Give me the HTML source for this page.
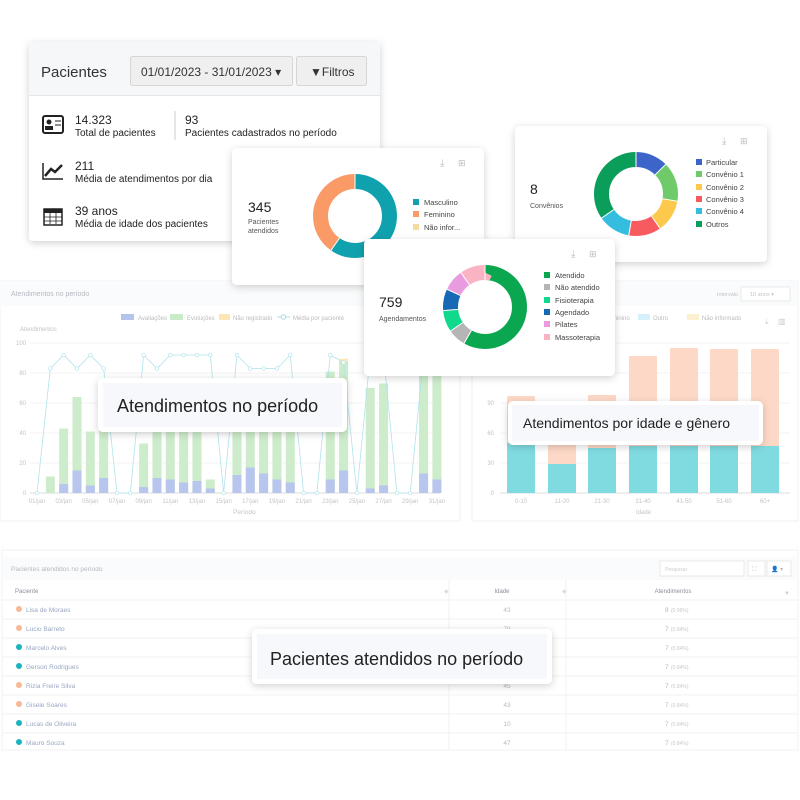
<!DOCTYPE html>
<html><head><meta charset="utf-8"><style>
html,body{margin:0;padding:0;background:#fff;width:800px;height:800px;overflow:hidden;font-family:"Liberation Sans",sans-serif}
</style></head><body>
<svg id="s" width="800" height="800" viewBox="0 0 800 800" xmlns="http://www.w3.org/2000/svg" font-family="Liberation Sans, sans-serif">
<defs>
<filter id="sh" x="-20%" y="-20%" width="140%" height="150%"><feDropShadow dx="0" dy="2" stdDeviation="4" flood-color="#000" flood-opacity="0.18"/></filter>
</defs>
<rect width="800" height="800" fill="#fff"/>
<!-- left chart panel -->
<rect x="0" y="281" width="460" height="240" fill="#fff" stroke="#f0f1f3"/>
<rect x="0" y="281" width="460" height="25" fill="#fafbfc"/>
<text x="11" y="296" font-size="7" fill="#b5b9c0">Atendimentos no período</text>
<rect x="121" y="314" width="13" height="6" fill="#b6c4ec"/><text x="138" y="320" font-size="6" fill="#bbb">Avaliações</text>
<rect x="170" y="314" width="13" height="6" fill="#c9ebc8"/><text x="187" y="320" font-size="6" fill="#bbb">Evoluções</text>
<rect x="219" y="314" width="11" height="6" fill="#fde6b4"/><text x="233" y="320" font-size="6" fill="#bbb">Não registrado</text>
<line x1="277" y1="317" x2="290" y2="317" stroke="#a8e0ea"/><circle cx="283.5" cy="317" r="2.3" fill="#fff" stroke="#a8e0ea"/><text x="293" y="320" font-size="6" fill="#bbb">Média por paciente</text>
<text x="20" y="331" font-size="6" fill="#c4c4c4">Atendimentos</text>
<g id="lg"></g>
<text x="233" y="514" font-size="6.5" fill="#c4c4c4">Período</text>
<!-- right chart panel -->
<rect x="472" y="281" width="326" height="240" fill="#fff" stroke="#f0f1f3"/>
<rect x="472" y="281" width="326" height="25" fill="#fafbfc"/>
<text x="717" y="296" font-size="5.5" fill="#c4c4c4">Intervalo</text>
<rect x="741" y="287" width="49" height="14" fill="#fff" stroke="#e8e8e8"/><text x="750" y="296" font-size="5.5" fill="#c4c4c4">10 anos ▾</text>
<text x="612" y="320" font-size="6" fill="#bbb">minino</text>
<rect x="638" y="314" width="12" height="6" fill="#d5f1fb"/><text x="653" y="320" font-size="6" fill="#bbb">Outro</text>
<rect x="687" y="314" width="12" height="6" fill="#fbf0cf"/><text x="702" y="320" font-size="6" fill="#bbb">Não informado</text>
<text x="765" y="324" font-size="8" fill="#ccc">⤓</text><text x="778" y="324" font-size="8" fill="#ccc">▥</text>
<g id="rg"></g>
<text x="636" y="514" font-size="6" fill="#c4c4c4">Idade</text>
<!-- table -->
<rect x="2" y="550" width="796" height="200" fill="#fff" stroke="#f0f1f3"/>
<rect x="2" y="557" width="796" height="23" fill="#fafbfc"/>
<text x="11" y="571" font-size="6.5" fill="#b5b9c0">Pacientes atendidos no período</text>
<rect x="660" y="561" width="84" height="15" fill="#fff" stroke="#e8e8e8"/><text x="665" y="571" font-size="5" fill="#ccc">Pesquisar</text>
<rect x="748" y="561" width="17" height="15" fill="#fff" stroke="#e8e8e8"/><text x="752" y="571" font-size="6" fill="#bbb">⛶</text>
<rect x="767" y="561" width="24" height="15" fill="#fff" stroke="#e8e8e8"/><text x="771" y="571" font-size="6" fill="#bbb">👤 ▾</text>
<line x1="449" y1="580" x2="449" y2="750" stroke="#f0f0f0"/><line x1="566" y1="580" x2="566" y2="750" stroke="#f0f0f0"/>
<text x="15" y="593" font-size="6" fill="#8a8f99">Paciente</text><text x="444" y="593" font-size="6" fill="#ddd">◆</text>
<text x="502" y="593" font-size="6" fill="#8a8f99" text-anchor="middle">Idade</text><text x="562" y="593" font-size="6" fill="#ddd">◆</text>
<text x="673" y="593" font-size="6" fill="#8a8f99" text-anchor="middle">Atendimentos</text><text x="784" y="595" font-size="6" fill="#c8d0e0">▼</text>
<g id="tb"></g>
<!-- cards -->
<g filter="url(#sh)"><rect x="29" y="42" width="351" height="199" rx="4" fill="#fff"/></g>
<rect x="29" y="42" width="351" height="53" fill="#f6f7f9"/><line x1="29" y1="95.5" x2="380" y2="95.5" stroke="#e6e6e6"/>
<text x="41" y="77" font-size="15" fill="#333">Pacientes</text>
<rect x="130.5" y="56.5" width="162" height="29" rx="2" fill="#efefef" stroke="#d6d6d6"/>
<text x="141" y="76" font-size="12" fill="#333">01/01/2023 - 31/01/2023 ▾</text>
<rect x="296.5" y="56.5" width="70" height="29" rx="2" fill="#efefef" stroke="#d6d6d6"/>
<text x="310" y="76" font-size="12" fill="#333">▼Filtros</text>
<rect x="43" y="116" width="20" height="17" rx="2" fill="none" stroke="#222" stroke-width="2"/><circle cx="49" cy="122" r="2.5" fill="#222"/><rect x="45" y="126" width="8" height="4" fill="#222"/><line x1="55" y1="121" x2="61" y2="121" stroke="#222"/><line x1="55" y1="125" x2="61" y2="125" stroke="#222"/>
<text x="75" y="124" font-size="12" fill="#222">14.323</text><text x="75" y="136" font-size="10" fill="#222">Total de pacientes</text>
<line x1="175" y1="111" x2="175" y2="140" stroke="#ccc"/>
<text x="185" y="124" font-size="12" fill="#222">93</text><text x="185" y="136" font-size="10" fill="#222">Pacientes cadastrados no período</text>
<path d="M43 163 V179 H63" fill="none" stroke="#222" stroke-width="1.5"/><path d="M45 176 L51 169 L55 172 L62 165" fill="none" stroke="#222" stroke-width="2.5"/>
<text x="75" y="170" font-size="12" fill="#222">211</text><text x="75" y="182" font-size="10" fill="#222">Média de atendimentos por dia</text>
<rect x="44" y="209" width="18" height="16" fill="none" stroke="#222" stroke-width="1.5"/><rect x="44" y="209" width="18" height="4" fill="#222"/><path d="M50 212v12M56 212v12M44 217h18M44 221h18" stroke="#222" stroke-width="0.8"/>
<text x="75" y="215" font-size="12" fill="#222">39 anos</text><text x="75" y="227" font-size="10" fill="#222">Média de idade dos pacientes</text>

<g filter="url(#sh)"><rect x="232" y="148" width="252" height="137" rx="5" fill="#fff"/></g>
<text x="440" y="166" font-size="10" fill="#bbb">⤓</text><text x="458" y="166" font-size="9" fill="#bbb">⊞</text>
<text x="248" y="212" font-size="14" fill="#222">345</text><text x="248" y="224" font-size="7" fill="#555">Pacientes</text><text x="248" y="233" font-size="7" fill="#555">atendidos</text>
<g id="d1"></g>
<rect x="413" y="199" width="6" height="6" fill="#0fa1ad"/><text x="424" y="205" font-size="7.5" fill="#444">Masculino</text>
<rect x="413" y="211" width="6" height="6" fill="#fa9a66"/><text x="424" y="217" font-size="7.5" fill="#444">Feminino</text>
<rect x="413" y="224" width="6" height="6" fill="#f3dc9e"/><text x="424" y="230" font-size="7.5" fill="#444">Não infor...</text>

<g filter="url(#sh)"><rect x="515" y="126" width="252" height="136" rx="5" fill="#fff"/></g>
<text x="722" y="144" font-size="10" fill="#bbb">⤓</text><text x="740" y="144" font-size="9" fill="#bbb">⊞</text>
<text x="530" y="194" font-size="14" fill="#222">8</text><text x="530" y="208" font-size="7" fill="#555">Convênios</text>
<g id="d2"></g>
<g id="l2"></g>

<g filter="url(#sh)"><rect x="364" y="239" width="251" height="137" rx="5" fill="#fff"/></g>
<text x="571" y="257" font-size="10" fill="#bbb">⤓</text><text x="589" y="257" font-size="9" fill="#bbb">⊞</text>
<text x="379" y="307" font-size="14" fill="#222">759</text><text x="379" y="321" font-size="7" fill="#555">Agendamentos</text>
<g id="d3"></g>
<g id="l3"></g>

<!-- overlay labels -->
<g filter="url(#sh)"><rect x="98" y="378" width="249" height="54" rx="5" fill="#fff"/></g>
<rect x="103" y="383" width="239" height="44" fill="#f7f8fc"/>
<text x="117" y="412" font-size="18" fill="#222">Atendimentos no período</text>
<g filter="url(#sh)"><rect x="508" y="401" width="255" height="44" rx="5" fill="#fff"/></g>
<rect x="512" y="405" width="247" height="36" fill="#f7f8fc"/>
<text x="523" y="428" font-size="14" fill="#222">Atendimentos por idade e gênero</text>
<g filter="url(#sh)"><rect x="252" y="629" width="300" height="55" rx="5" fill="#fff"/></g>
<rect x="257" y="634" width="290" height="45" fill="#f7f8fc"/>
<text x="270" y="665" font-size="18" fill="#222">Pacientes atendidos no período</text>
</svg>
<script>
var NS="http://www.w3.org/2000/svg";
function el(p,t,a,txt){var e=document.createElementNS(NS,t);for(var k in a)e.setAttribute(k,a[k]);if(txt!=null)e.textContent=txt;document.getElementById(p).appendChild(e);return e;}
// left chart
for(var v=0;v<=100;v+=20){var y=493-v*1.5;el("lg","line",{x1:30,x2:440,y1:y,y2:y,stroke:v?"#f3f3f3":"#ddd"});el("lg","text",{x:26,y:y+2,"font-size":6,fill:"#c4c4c4","text-anchor":"end"},String(v));}
var tot=[0,11,43,64,41,45,0,0,33,50,50,50,50,9,0,45,50,50,50,50,0,0,81,88,0,70,73,0,0,85,85];
var blu=[0,0,6,15,5,10,0,0,4,10,9,7,8,3,0,12,17,13,9,7,0,0,9,15,0,3,5,0,0,13,9];
var ln=[0,83,92,83,92,83,0,0,92,83,92,92,92,92,0,92,83,83,83,92,0,0,92,87,0,92,92,0,0,92,92];
var pts=[];
for(var i=0;i<31;i++){var x=37+i*13.33;
 if(tot[i]){el("lg","rect",{x:x-4.5,y:493-tot[i]*1.5,width:9,height:tot[i]*1.5,fill:"#cdeccb"});
 el("lg","rect",{x:x-4.5,y:493-blu[i]*1.5,width:9,height:blu[i]*1.5,fill:"#b8c5ec"});}
 if(i==23)el("lg","rect",{x:x-4.5,y:493-89.5*1.5,width:9,height:2,fill:"#fde6b4"});
 pts.push(x+","+(493-ln[i]*1.5));
 if(i%2==0)el("lg","text",{x:x,y:503,"font-size":6,fill:"#c4c4c4","text-anchor":"middle"},(i+1<10?"0":"")+(i+1)+"/jan");}
el("lg","polyline",{points:pts.join(" "),fill:"none",stroke:"#b0e3ec","stroke-width":0.8});
pts.forEach(function(p){var q=p.split(",");el("lg","circle",{cx:q[0],cy:q[1],r:1.8,fill:"#fff",stroke:"#b0e3ec","stroke-width":0.7});});
// right chart
for(var v=0;v<=150;v+=30){var y=493-v;el("rg","line",{x1:500,x2:790,y1:y,y2:y,stroke:v?"#f3f3f3":"#ddd"});el("rg","text",{x:494,y:y+2,"font-size":6,fill:"#c4c4c4","text-anchor":"end"},String(v));}
var cx=[521,562,602,643,684,724,765],cy=[50,29,45,47,47,47,47],tt=[97,60,98,137,145,144,144],lb=["0-10","11-20","21-30","31-40","41-50","51-60","60+"];
for(var i=0;i<7;i++){el("rg","rect",{x:cx[i]-14,y:493-tt[i],width:28,height:tt[i],fill:"#fed8c6",rx:1.5});
el("rg","rect",{x:cx[i]-14,y:493-cy[i],width:28,height:cy[i],fill:"#80dbe1"});
el("rg","text",{x:cx[i],y:503,"font-size":6,fill:"#c4c4c4","text-anchor":"middle"},lb[i]);}
// table
var rows=[["Lisa de Moraes","43","8","(0.96%)","#f7b995"],["Lucio Barreto","79","7","(0.84%)","#f7b995"],["Marcelo Alves","43","7","(0.84%)","#1bb3bf"],["Gerson Rodrigues","43","7","(0.84%)","#1bb3bf"],["Rizia Freire Silva","45","7","(0.84%)","#f7b995"],["Gisele Soares","43","7","(0.84%)","#f7b995"],["Lucas de Oliveira","10","7","(0.84%)","#1bb3bf"],["Mauro Souza","47","7","(0.84%)","#1bb3bf"]];
rows.forEach(function(r,i){var y=612+i*19;el("tb","line",{x1:2,x2:798,y1:y-12,y2:y-12,stroke:"#f2f2f2"});
el("tb","circle",{cx:19,cy:y-3,r:3,fill:r[4]});el("tb","text",{x:26,y:y,"font-size":6.5,fill:"#9aa6c2"},r[0]);
el("tb","text",{x:507,y:y,"font-size":6.5,fill:"#b5b9c0","text-anchor":"middle"},r[1]);
el("tb","text",{x:665,y:y,"font-size":6.5,fill:"#b5b9c0"},r[2]);el("tb","text",{x:671,y:y,"font-size":5,fill:"#c4c8ce"},r[3]);});
// donuts
function donut(id,cx,cy,segs){var r=34.5,C=2*Math.PI*r,s=0;segs.forEach(function(g){var len=g[0]/360*C;
el(id,"circle",{cx:cx,cy:cy,r:r,fill:"none",stroke:g[1],"stroke-width":15,"stroke-dasharray":len+" "+(C-len),"stroke-dashoffset":-s,transform:"rotate(-90 "+cx+" "+cy+")"});s+=len;});
var a=0;segs.forEach(function(g){var t=(a-90)*Math.PI/180;el(id,"line",{x1:cx+27*Math.cos(t),y1:cy+27*Math.sin(t),x2:cx+42*Math.cos(t),y2:cy+42*Math.sin(t),stroke:"#fff","stroke-width":1});a+=g[0];});}
donut("d1",355,216,[[215,"#0fa1ad"],[145,"#fa9a66"]]);
donut("d2",636,194,[[45,"#3d64c9"],[55,"#6fcb6a"],[45,"#fdc94d"],[45,"#f85b5f"],[45,"#35bde0"],[125,"#0a9e5a"]]);
donut("d3",485,307,[[210,"#0aa650"],[25,"#b5b5b5"],[30,"#10d98c"],[30,"#1769b6"],[30,"#ea9be0"],[35,"#f9b3c2"]]);
</script>
<div style="display:none">
<!-- legends kept as static text below -->
</div>
<svg width="0" height="0"></svg>
<script>
var L2=[["Particular","#3d64c9"],["Convênio 1","#6fcb6a"],["Convênio 2","#fdc94d"],["Convênio 3","#f85b5f"],["Convênio 4","#35bde0"],["Outros","#0a9e5a"]];
</script>
<svg style="position:absolute;left:0;top:0" width="800" height="800" font-family="Liberation Sans, sans-serif">
<rect x="696" y="159" width="6" height="6" fill="#3d64c9"/><text x="706" y="165" font-size="7.5" fill="#444">Particular</text>
<rect x="696" y="171" width="6" height="6" fill="#6fcb6a"/><text x="706" y="177" font-size="7.5" fill="#444">Convênio 1</text>
<rect x="696" y="184" width="6" height="6" fill="#fdc94d"/><text x="706" y="190" font-size="7.5" fill="#444">Convênio 2</text>
<rect x="696" y="196" width="6" height="6" fill="#f85b5f"/><text x="706" y="202" font-size="7.5" fill="#444">Convênio 3</text>
<rect x="696" y="208" width="6" height="6" fill="#35bde0"/><text x="706" y="214" font-size="7.5" fill="#444">Convênio 4</text>
<rect x="696" y="221" width="6" height="6" fill="#0a9e5a"/><text x="706" y="227" font-size="7.5" fill="#444">Outros</text>
<rect x="544" y="272" width="6" height="6" fill="#0aa650"/><text x="555" y="278" font-size="7.5" fill="#444">Atendido</text>
<rect x="544" y="284" width="6" height="6" fill="#b5b5b5"/><text x="555" y="290" font-size="7.5" fill="#444">Não atendido</text>
<rect x="544" y="297" width="6" height="6" fill="#10d98c"/><text x="555" y="303" font-size="7.5" fill="#444">Fisioterapia</text>
<rect x="544" y="309" width="6" height="6" fill="#1769b6"/><text x="555" y="315" font-size="7.5" fill="#444">Agendado</text>
<rect x="544" y="321" width="6" height="6" fill="#ea9be0"/><text x="555" y="327" font-size="7.5" fill="#444">Pilates</text>
<rect x="544" y="334" width="6" height="6" fill="#f9b3c2"/><text x="555" y="340" font-size="7.5" fill="#444">Massoterapia</text>
</svg>
</body></html>
